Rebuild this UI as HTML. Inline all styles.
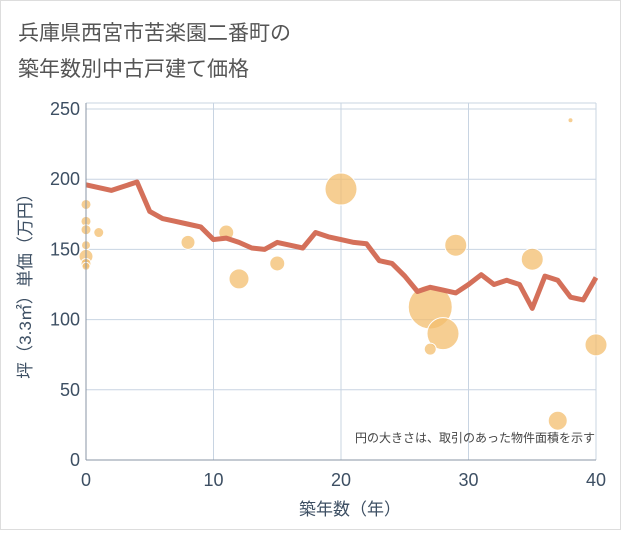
<!DOCTYPE html>
<html><head><meta charset="utf-8"><style>
body{margin:0;background:#fff;}
svg text{font-family:"Liberation Sans","Noto Sans CJK JP",sans-serif;}
</style></head><body>
<svg width="621" height="530" xmlns="http://www.w3.org/2000/svg">
<rect x="0.5" y="0.5" width="620" height="529" fill="#fff" stroke="#ddd"/>
<text x="18" y="40" font-size="21" fill="#555">兵庫県西宮市苦楽園二番町の</text>
<text x="18" y="76" font-size="21" fill="#555">築年数別中古戸建て価格</text>
<g id="grid"></g>
<g id="bubbles"></g>
<g id="line"></g>
<g id="axes"></g>
<text x="595" y="442" font-size="12" fill="#444" text-anchor="end">円の大きさは、取引のあった物件面積を示す</text>
<text x="350" y="515" font-size="17" fill="#3d4f63" text-anchor="middle">築年数（年）</text>
<text transform="translate(31,282) rotate(-90)" font-size="17" fill="#3d4f63" text-anchor="middle">坪（3.3㎡）単価（万円）</text>
</svg>
<script>
const xTicks=[0,10,20,30,40];
const yTicks=[0,50,100,150,200,250];
const lineYears=[0,2,4,5,6,7,8,9,10,11,12,13,14,15,16,17,18,19,20,21,22,23,24,25,26,27,28,29,30,31,32,33,34,35,36,37,38,39,40];
const lineValues=[196,192,198,177,172,170,168,166,157,158,155,151,150,155,153,151,162,159,157,155,154,142,140,131,120,123,121,119,125,132,125,128,125,108,131,128,116,114,130];
const bubbleYears=[0,0,0,0,0,0,0,1,8,11,12,15,20,27,28,27,29,35,37,38,40];
const bubbleValues=[182,170,164,153,145,140,138,162,155,162,129,140,193,109,90,79,153,143,28,242,82];
const bubbleSizes=[5,5,5,4.5,7,5,4,5,7,7.5,10,7.5,16,22,16,6,11,11,9.5,2.5,11];
const L=86,R=596,T=109,B=460,FT=103;
const xs=v=>L+(v-0)/40*(R-L);
const ys=v=>B-v/250*(B-T);
const NS='http://www.w3.org/2000/svg';
function mk(tag,attrs,parent,txt){const e=document.createElementNS(NS,tag);for(const k in attrs)e.setAttribute(k,attrs[k]);if(txt!==undefined)e.textContent=txt;document.getElementById(parent).appendChild(e);return e;}
xTicks.forEach(t=>{
 const g=mk('line',{x1:xs(t),x2:xs(t),y1:FT,y2:B,stroke:'#c8d4e2','stroke-width':1},'grid');
 
 
 const tx=mk('text',{x:xs(t),y:B+26,'font-size':18,fill:'#3d4f63','text-anchor':'middle'},'axes',t);
 
 
});
yTicks.forEach(t=>{
 const g=mk('line',{x1:L,x2:R,y1:ys(t),y2:ys(t),stroke:'#c8d4e2','stroke-width':1},'grid');
 
 
 const tx=mk('text',{x:L-6,y:ys(t)+6,'font-size':18,fill:'#3d4f63','text-anchor':'end'},'axes',t);
 
 
});
const fr=mk('line',{x1:L,x2:R,y1:FT,y2:FT,stroke:'#c8d4e2','stroke-width':1},'grid');


const ax=mk('line',{x1:L,x2:L,y1:FT,y2:B,stroke:'#8a96a4','stroke-width':1},'axes');


const ax2=mk('line',{x1:L,x2:R,y1:B,y2:B,stroke:'#8a96a4','stroke-width':1},'axes');


bubbleYears.forEach((yr,i)=>{
 const c=mk('circle',{cx:xs(yr),cy:ys(bubbleValues[i]),r:bubbleSizes[i],fill:'rgba(243,190,110,0.75)',stroke:'#fff','stroke-width':1},'bubbles');
 
 
});
const pts=lineYears.map((y,i)=>xs(y)+','+ys(lineValues[i])).join(' ');
const pl=mk('polyline',{points:pts,fill:'none',stroke:'#d4705a','stroke-width':5,'stroke-linejoin':'round'},'line');


</script>
</body></html>
